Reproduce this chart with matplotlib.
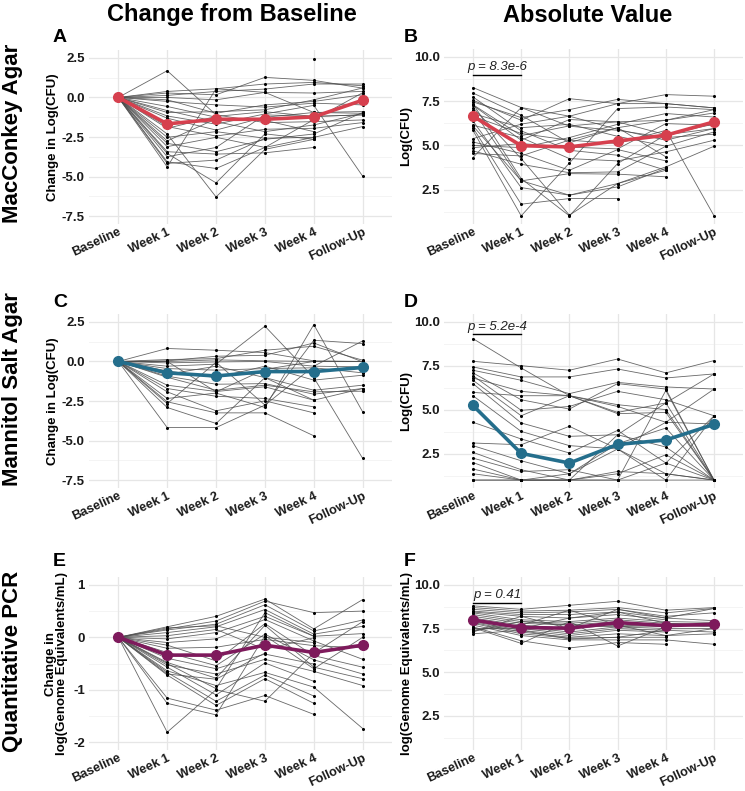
import matplotlib
matplotlib.use("Agg")
import matplotlib.pyplot as plt
import numpy as np

nan = np.nan

timepoints = ["Baseline", "Week 1", "Week 2", "Week 3", "Week 4", "Follow-Up"]

# --- MacConkey agar, change from baseline (BL, W1, W2, W3, W4, FU)
mac_change = [
    [0, 1.69, -1.10, -1.59, -1.53, -1.42],
    [0, 0.38, 0.55, 0.85, 0.95, 0.74],
    [0, 0.28, 0.17, 1.27, 1.08, 0.59],
    [0, 0.13, 0.38, 0.53, 0.85, 0.85],
    [0, 0.00, -0.15, 0.32, 0.28, 0.38],
    [0, -0.15, -1.00, -0.47, -0.25, 0.17],
    [0, -0.25, -0.47, -0.61, -0.36, -0.47],
    [0, -0.57, -1.25, nan, 2.46, nan],
    [0, -0.83, -1.53, -2.16, -1.74, -1.00],
    [0, -0.95, -0.90, -0.78, -0.15, 0.60],
    [0, -1.17, -1.69, -1.04, -0.50, -4.98],
    [0, -1.31, -2.06, -1.25, -0.95, -0.89],
    [0, -1.84, -2.44, -2.01, -1.95, -1.59],
    [0, -1.95, -1.20, -0.90, -1.20, -1.10],
    [0, -2.31, -6.29, -3.28, -2.65, nan],
    [0, -2.52, -2.16, -2.58, -2.52, -1.84],
    [0, -2.75, -1.35, -1.45, -2.16, nan],
    [0, -2.90, -3.43, -2.65, -2.31, -0.95],
    [0, -3.11, -2.52, -3.16, -1.40, 0.30],
    [0, -3.43, -3.58, -3.50, -3.16, nan],
    [0, -3.54, -5.40, -2.30, -2.65, nan],
    [0, -3.75, -3.16, -1.10, -1.20, -1.10],
    [0, -4.07, -4.49, -3.16, -2.52, nan],
    [0, -4.17, -3.96, -2.58, nan, nan],
    [0, -4.39, 0.55, 0.32, -0.95, -1.00],
]
mac_change_mean = [0, -1.67, -1.38, -1.38, -1.23, -0.17]

# --- MacConkey agar, absolute log(CFU)
mac_abs = [
    [8.27, 7.14, 6.08, 5.85, 5.44, 5.63],
    [7.96, 6.70, 5.14, 6.00, 4.35, nan],
    [7.74, 5.82, 4.72, 4.44, 3.59, nan],
    [7.55, 6.42, 7.64, 7.36, 7.87, 7.78],
    [7.46, 6.57, 7.02, 7.60, 7.36, 7.12],
    [7.36, 3.12, 1.01, 3.97, 5.60, 6.20],
    [7.27, 5.29, 6.46, 6.33, 6.42, 6.83],
    [7.14, 4.25, 1.05, 2.84, 3.78, 4.95],
    [6.98, 2.99, 3.40, 3.37, 3.22, nan],
    [6.80, 6.00, 6.19, 5.51, 4.95, 5.76],
    [6.65, 5.67, 5.29, 5.10, 5.85, 1.01],
    [6.38, 2.61, 2.18, 2.65, 3.70, nan],
    [6.14, 5.44, 4.25, 4.12, 4.63, 5.29],
    [6.00, 1.67, 1.99, 1.99, nan, nan],
    [5.85, 1.01, 4.00, 7.08, 7.17, 7.02],
    [5.38, 6.20, 6.65, 5.90, 5.29, 5.95],
    [5.19, 4.54, 3.59, 4.76, 4.12, nan],
    [5.00, 4.87, 5.44, 6.19, 6.80, 6.60],
    [4.87, 5.10, 4.90, 4.80, 6.23, 6.14],
    [4.69, 3.93, 3.45, 3.50, 4.95, nan],
    [4.54, 4.40, 5.30, 6.00, 6.42, 7.02],
    [4.31, 7.14, 6.65, 7.36, 7.36, 7.12],
    [7.30, 5.55, 6.10, 6.33, 5.60, 5.95],
    [6.10, 3.00, 2.18, 2.84, 3.59, nan],
]
mac_abs_mean = [6.65, 4.98, 4.91, 5.25, 5.57, 6.33]

# --- Mannitol salt agar, change from baseline
msa_change = [
    [0, 0.82, 0.71, 0.56, 0.04, 0.00],
    [0, 0.12, 0.18, 0.71, 0.96, 0.08],
    [0, 0.04, 0.33, 0.39, 1.17, -0.03],
    [0, 0.00, 0.10, 0.04, 0.00, 0.00],
    [0, -0.09, -0.03, 0.00, -0.30, -0.34],
    [0, -0.30, -0.17, 2.23, -1.02, -6.13],
    [0, -0.45, -0.55, -0.45, -0.40, -0.72],
    [0, -0.60, -1.02, -0.30, -1.18, -0.87],
    [0, -0.81, -0.30, -1.02, -1.82, -1.50],
    [0, -0.93, -1.44, -1.40, -2.07, -1.71],
    [0, -1.00, -1.82, -1.50, -1.92, -1.88],
    [0, -1.50, -1.90, -1.60, -2.45, nan],
    [0, -1.71, -2.20, -2.34, -2.87, nan],
    [0, -1.92, -3.12, -2.49, -3.25, nan],
    [0, -2.34, -2.00, -2.91, 2.33, -3.19],
    [0, -2.55, -3.25, -3.25, -4.70, nan],
    [0, -2.66, -0.05, -2.76, 1.34, 1.13],
    [0, -2.91, -3.92, -1.02, -2.45, -1.71],
    [0, -4.18, -4.18, -2.76, -0.30, 1.30],
    [0, 0.00, -1.92, -0.50, 0.00, 0.00],
]
msa_change_mean = [0, -0.72, -0.92, -0.64, -0.64, -0.38]

# --- Mannitol salt agar, absolute log(CFU)
msa_abs = [
    [9.05, 7.38, 5.80, 5.19, 4.29, 4.19],
    [7.76, 7.51, 7.25, 7.89, 7.10, 7.80],
    [7.44, 6.87, 6.87, 7.32, 6.81, 7.04],
    [7.25, 6.68, 5.92, 6.56, 6.30, 6.18],
    [7.10, 5.57, 5.04, 6.49, 6.18, 1.00],
    [6.94, 4.97, 5.19, 6.05, 5.57, 4.66],
    [6.81, 6.05, 5.80, 5.29, 5.01, 1.00],
    [6.68, 4.66, 5.80, 4.85, 5.39, 1.00],
    [6.49, 4.25, 3.49, 3.58, 2.88, 1.00],
    [5.99, 5.80, 5.80, 4.78, 4.85, 1.00],
    [5.80, 3.77, 2.96, 2.77, 1.36, 1.00],
    [4.29, 3.34, 2.54, 3.83, 1.97, 1.00],
    [3.11, 3.01, 4.06, 2.77, 1.00, 4.66],
    [2.96, 2.10, 1.36, 3.07, 3.96, 1.00],
    [2.58, 1.59, 1.00, 1.36, 2.44, 1.00],
    [2.25, 1.49, 1.59, 1.00, 1.00, 1.00],
    [2.00, 1.00, 1.00, 1.00, 6.10, 1.00],
    [1.63, 1.00, 1.36, 2.77, 4.29, 6.18],
    [1.36, 1.00, 1.00, 3.58, 5.39, 7.04],
    [1.00, 1.00, 1.00, 1.00, 1.97, 4.66],
    [1.00, 1.00, 1.00, 1.49, 1.36, 1.00],
]
msa_abs_mean = [5.25, 2.52, 1.97, 3.03, 3.28, 4.17]

# --- Quantitative PCR, change from baseline
pcr_change = [
    [0, 0.20, 0.40, 0.73, 0.16, 0.72],
    [0, 0.16, 0.31, 0.69, 0.47, 0.50],
    [0, 0.14, 0.25, 0.62, 0.12, 0.33],
    [0, 0.09, 0.20, 0.53, 0.06, 0.21],
    [0, 0.03, 0.15, -0.23, -0.01, nan],
    [0, -0.03, 0.09, 0.40, 0.02, 0.07],
    [0, -0.10, -0.03, 0.34, -0.07, -0.42],
    [0, -0.15, -0.45, 0.26, -0.35, -0.57],
    [0, -0.21, -0.19, -0.04, -0.16, -0.20],
    [0, -0.29, -0.54, 0.06, -0.43, -0.70],
    [0, -0.40, -0.60, -0.32, -0.51, nan],
    [0, -0.48, -0.78, 0.23, -0.57, -0.79],
    [0, -0.53, -0.70, -0.42, -0.65, -0.92],
    [0, -0.57, -1.10, -0.49, -0.84, nan],
    [0, -0.64, -0.92, -0.67, -0.95, -1.74],
    [0, -0.67, -1.22, -0.72, -1.12, nan],
    [0, -0.72, -1.30, -0.79, -1.26, nan],
    [0, -1.16, -1.39, -1.11, -1.47, nan],
    [0, -1.26, -1.48, 0.03, -0.60, 0.00],
    [0, -1.81, -1.00, -1.22, -0.30, 0.30],
    [0, 0.18, 0.22, 0.00, -0.10, nan],
    [0, -0.50, -0.98, 0.47, 0.02, nan],
    [0, -0.70, -0.80, -0.30, nan, nan],
]
pcr_change_mean = [0, -0.34, -0.34, -0.15, -0.29, -0.15]

# --- Quantitative PCR, absolute log(genome equivalents/mL)
pcr_abs = [
    [8.80, 8.60, 8.83, 9.06, 8.55, 8.70],
    [8.70, 8.50, 8.55, 8.70, 8.40, 8.65],
    [8.60, 8.40, 8.45, 8.60, 8.20, 8.40],
    [8.50, 8.30, 8.30, 8.45, 8.10, 7.95],
    [8.45, 8.20, 8.10, 8.30, 8.00, nan],
    [8.40, 8.00, 7.90, 8.10, 7.90, 7.85],
    [8.30, 7.90, 7.80, 8.00, 7.80, 7.70],
    [8.20, 7.80, 7.70, 7.90, 7.70, 7.60],
    [8.10, 7.70, 7.50, 7.70, 7.60, nan],
    [8.05, 7.60, 7.30, 7.60, 7.50, 7.50],
    [8.00, 7.50, 7.20, 7.50, 7.40, 7.30],
    [7.90, 7.40, 7.10, 7.40, 7.30, nan],
    [7.85, 7.30, 7.00, 7.20, 7.10, 7.20],
    [7.80, 7.20, 6.95, 7.00, 7.00, nan],
    [7.70, 7.10, 6.85, 6.85, 6.85, 6.60],
    [7.60, 6.80, 6.39, 6.70, 6.60, nan],
    [7.55, 6.65, 7.90, 6.50, 7.60, nan],
    [7.50, 7.50, 8.10, 8.45, 7.80, 7.70],
    [7.40, 7.70, 8.55, 7.70, 7.10, 7.50],
    [7.35, 7.90, 7.70, 7.60, 7.70, nan],
    [7.30, 8.20, 7.50, 8.60, 8.10, 8.65],
    [7.20, 7.40, 6.90, 7.00, 7.40, nan],
]
pcr_abs_mean = [7.99, 7.56, 7.52, 7.84, 7.67, 7.74]

p_values = ["p = 8.3e-6", "p = 5.2e-4", "p = 0.41"]
p_heights = [9.0, 9.3, 8.98]

red = "#D6404E"
teal = "#246E8C"
plum = "#7E1A5C"

W, H = 745, 791
fig = plt.figure(figsize=(W / 100, H / 100), dpi=100)
bold = dict(family=["Liberation Sans", "DejaVu Sans"], weight="bold")


def add_ax(left, top, right, bottom):
    return fig.add_axes([left / W, 1 - bottom / H, (right - left) / W, (bottom - top) / H])


def panel(ax, subjects, means, color, ylim, majors, minors, ylabel, labx, fmt):
    x = np.arange(len(timepoints))
    for m in minors:
        ax.axhline(m, color="#F2F2F2", lw=0.6, zorder=0)
    for m in majors:
        ax.axhline(m, color="#E6E6E6", lw=0.9, zorder=0)
    for xi in x:
        ax.axvline(xi, color="#E6E6E6", lw=0.9, zorder=0)
    for s in subjects:
        ax.plot(x, s, color="#4d4d4d", lw=0.6, alpha=0.85, zorder=2)
        ax.plot(x, s, "o", color="black", ms=2.2, mew=0, zorder=3)
    ax.plot(x, means, color=color, lw=2.6, marker="o", ms=7, zorder=5)
    ax.set_xlim(-0.6, 5.6)
    ax.set_ylim(*ylim)
    ax.set_yticks(majors)
    ax.set_yticklabels([fmt(v) for v in majors], fontsize=9.5, color="#1a1a1a", **bold)
    ax.set_xticks(x)
    ax.set_xticklabels(timepoints, rotation=25, ha="right", va="top",
                       rotation_mode="anchor", fontsize=9.2, color="#1a1a1a", **bold)
    ax.tick_params(axis="y", length=0, pad=3)
    ax.tick_params(axis="x", length=0, pad=1.5)
    for sp in ax.spines.values():
        sp.set_visible(False)
    ax.set_ylabel(ylabel, fontsize=9.5, linespacing=0.95, **bold)
    ax.yaxis.set_label_coords(labx, 0.5)


f1 = lambda v: f"{v:.1f}"
f0 = lambda v: f"{v:.0f}"
chg_lim, chg_maj, chg_min = (-8, 3), [-7.5, -5, -2.5, 0, 2.5], [-6.25, -3.75, -1.25, 1.25]
abs_lim, abs_maj, abs_min = (0.55, 10.45), [2.5, 5, 7.5, 10], [1.25, 3.75, 6.25, 8.75]

axA = add_ax(89, 50, 392, 224)
axB = add_ax(444, 49, 743, 224)
axC = add_ax(89, 314, 392, 488)
axD = add_ax(444, 314, 743, 488)
axE = add_ax(89, 577, 392, 750)
axF = add_ax(444, 577, 743, 750)

panel(axA, mac_change, mac_change_mean, red, chg_lim, chg_maj, chg_min, "Change in Log(CFU)", -0.10, f1)
panel(axB, mac_abs, mac_abs_mean, red, abs_lim, abs_maj, abs_min, "Log(CFU)", -0.105, f1)
panel(axC, msa_change, msa_change_mean, teal, chg_lim, chg_maj, chg_min, "Change in Log(CFU)", -0.10, f1)
panel(axD, msa_abs, msa_abs_mean, teal, abs_lim, abs_maj, abs_min, "Log(CFU)", -0.105, f1)
panel(axE, pcr_change, pcr_change_mean, plum, (-2.15, 1.15), [-2, -1, 0, 1], [-1.5, -0.5, 0.5],
      "Change in\nlog(Genome Equivalents/mL)", -0.068, f0)
panel(axF, pcr_abs, pcr_abs_mean, plum, abs_lim, abs_maj, abs_min,
      "log(Genome Equivalents/mL)", -0.105, f1)

for ax, txt, yh in zip([axB, axD, axF], p_values, p_heights):
    ax.plot([0, 1], [yh, yh], color="black", lw=1.0, zorder=4)
    ax.text(0.5, yh + 0.08, txt, ha="center", va="bottom", fontsize=9.5,
            style="italic", color="#222222", family=["Liberation Sans", "DejaVu Sans"])

# panel letters
for letter, xp, yp in [("A", 53, 29), ("B", 404, 29), ("C", 53, 294),
                       ("D", 404, 294), ("E", 53, 553), ("F", 404, 553)]:
    fig.text(xp / W, 1 - yp / H, letter, ha="left", va="top", fontsize=14, **bold)

# column titles
fig.text(232 / W, 1 - 15 / H, "Change from Baseline", ha="center", va="center", fontsize=17, **bold)
fig.text(588 / W, 1 - 15 / H, "Absolute Value", ha="center", va="center", fontsize=17, **bold)

# row titles
for txt, yb in [("MacConkey Agar", 223), ("Mannitol Salt Agar", 486), ("Quantitative PCR", 752)]:
    fig.text(13 / W, 1 - yb / H, txt, rotation=90, ha="center", va="bottom", fontsize=16, **bold)

fig.savefig("out.png", dpi=100)
